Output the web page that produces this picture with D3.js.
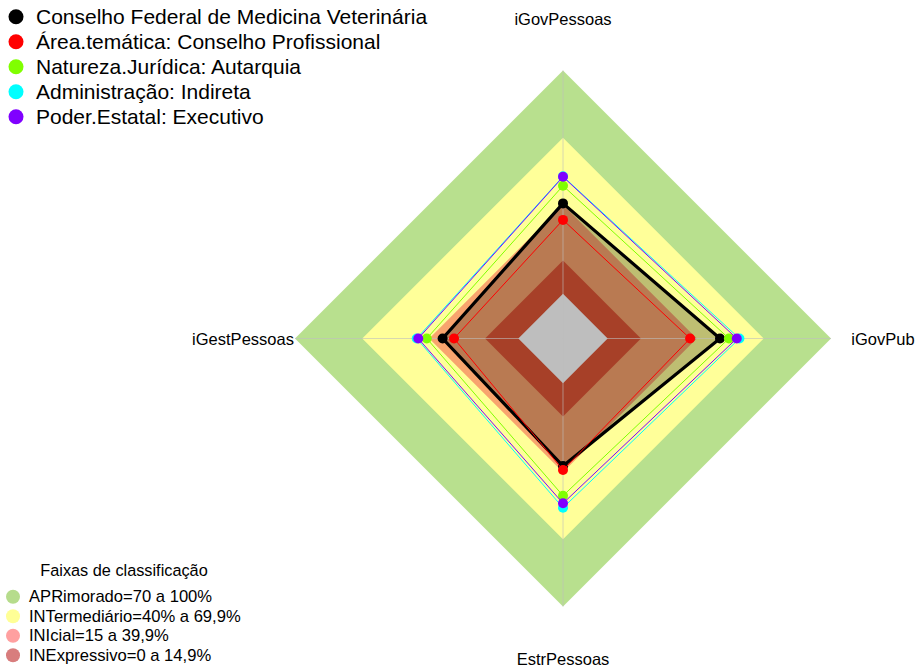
<!DOCTYPE html>
<html>
<head>
<meta charset="utf-8">
<script src="https://cdn.jsdelivr.net/npm/d3@7"></script>
<style>
  body { margin: 0; background: #fff; }
  text { font-family: "Liberation Sans", Arial, sans-serif; fill: #000; }
</style>
</head>
<body>
<div id="radar"></div>
<script>
// eixos, sentido anti-horario a partir do topo
const axes = ["iGovPessoas", "iGestPessoas", "EstrPessoas", "iGovPub"];

const seriesNames = [
  "Conselho Federal de Medicina Veterinária",
  "Área.temática: Conselho Profissional",
  "Natureza.Jurídica: Autarquia",
  "Administração: Indireta",
  "Poder.Estatal: Executivo"
];
const cfmv          = [40.5, 33.9, 37.1, 50.3];
const areaTematica  = [33.1, 28.8, 38.9, 36.9];
const natureza      = [48.4, 41.0, 50.4, 54.3];
const administracao = [52.6, 45.5, 55.8, 59.0];
const poderEstatal  = [52.4, 44.8, 53.8, 57.8];
const seriesValues = [cfmv, areaTematica, natureza, administracao, poderEstatal];

const bandLimits = [100, 69.9, 39.9, 14.9];
const bandLabels = [
  "APRimorado=70 a 100%",
  "INTermediário=40% a 69,9%",
  "INIcial=15 a 39,9%",
  "INExpressivo=0 a 14,9%"
];
const legendTitle = "Faixas de classificação";

// estilos
const seriesColors = ["#000000", "#ff0000", "#80ff00", "#00ffff", "#8000ff"];
const bandFill = ["#b8e08e", "#ffff99", "#f8a46e", "#e15636"];
const bandLegendFill = ["#b6dc8c", "#ffff96", "#ffa0a0", "#d87d7d"];

const W = 917, H = 672;
const cx = 563, cy = 338.5, R = 268;

const svg = d3.select("#radar").append("svg")
    .attr("width", W)
    .attr("height", H);

const r = d3.scaleLinear().domain([0, 100]).range([R / 6, R]);
const angle = (d, i) => -i * Math.PI / 2;

const g = svg.append("g").attr("transform", "translate(" + cx + "," + cy + ")");

const diamond = d3.lineRadial()
    .angle(angle)
    .radius(d => d)
    .curve(d3.curveLinearClosed);

// faixas
bandLimits.forEach((lim, k) => {
  g.append("path")
    .attr("d", diamond(axes.map(() => r(lim))))
    .attr("fill", bandFill[k]);
});
g.append("path")
  .attr("d", diamond(axes.map(() => r(0))))
  .attr("fill", "#fff");

const radarLine = d3.lineRadial()
    .angle(angle)
    .radius(d => r(d))
    .curve(d3.curveLinearClosed);

// preenchimento da entidade
g.append("path")
  .attr("d", radarLine(cfmv))
  .attr("fill", "rgba(0,0,0,0.255)")
  .attr("stroke", "none");

// eixos
axes.forEach((a, i) => {
  const t = angle(null, i);
  g.append("line")
    .attr("x1", 0).attr("y1", 0)
    .attr("x2", R * Math.sin(t))
    .attr("y2", -R * Math.cos(t))
    .attr("stroke", "#bebebe")
    .attr("stroke-opacity", 0.6)
    .attr("stroke-width", 1);
});

// series
seriesValues.forEach((vals, s) => {
  g.append("path")
    .attr("d", radarLine(vals))
    .attr("fill", "none")
    .attr("stroke", seriesColors[s])
    .attr("stroke-width", s === 0 ? 3.2 : 1)
    .attr("stroke-linejoin", "miter");
  g.selectAll(null)
    .data(vals)
    .enter().append("circle")
    .attr("cx", (d, i) => r(d) * Math.sin(angle(d, i)))
    .attr("cy", (d, i) => -r(d) * Math.cos(angle(d, i)))
    .attr("r", 5)
    .attr("fill", seriesColors[s]);
});

// rotulos dos eixos
axes.forEach((a, i) => {
  const t = angle(null, i);
  const lr = 320;
  g.append("text")
    .attr("x", lr * Math.sin(t))
    .attr("y", -lr * Math.cos(t))
    .attr("text-anchor", "middle")
    .attr("dominant-baseline", "central")
    .style("font-size", "16.5px")
    .text(a);
});

// legenda das series
const leg = svg.append("g");
seriesNames.forEach((name, s) => {
  const y = 16.7 + 25 * s;
  leg.append("circle")
    .attr("cx", 16).attr("cy", y).attr("r", 7.5)
    .attr("fill", seriesColors[s]);
  leg.append("text")
    .attr("x", 36).attr("y", y)
    .attr("dominant-baseline", "central")
    .style("font-size", "21px")
    .text(name);
});

// legenda das faixas
const leg2 = svg.append("g");
leg2.append("text")
  .attr("x", 124).attr("y", 570)
  .attr("text-anchor", "middle")
  .attr("dominant-baseline", "central")
  .style("font-size", "16.3px")
  .text(legendTitle);
bandLabels.forEach((lab, k) => {
  const y = 596.7 + 19.5 * k;
  leg2.append("circle")
    .attr("cx", 13).attr("cy", y).attr("r", 7)
    .attr("fill", bandLegendFill[k]);
  leg2.append("text")
    .attr("x", 29).attr("y", y)
    .attr("dominant-baseline", "central")
    .style("font-size", "16.6px")
    .text(lab);
});
</script>
</body>
</html>
